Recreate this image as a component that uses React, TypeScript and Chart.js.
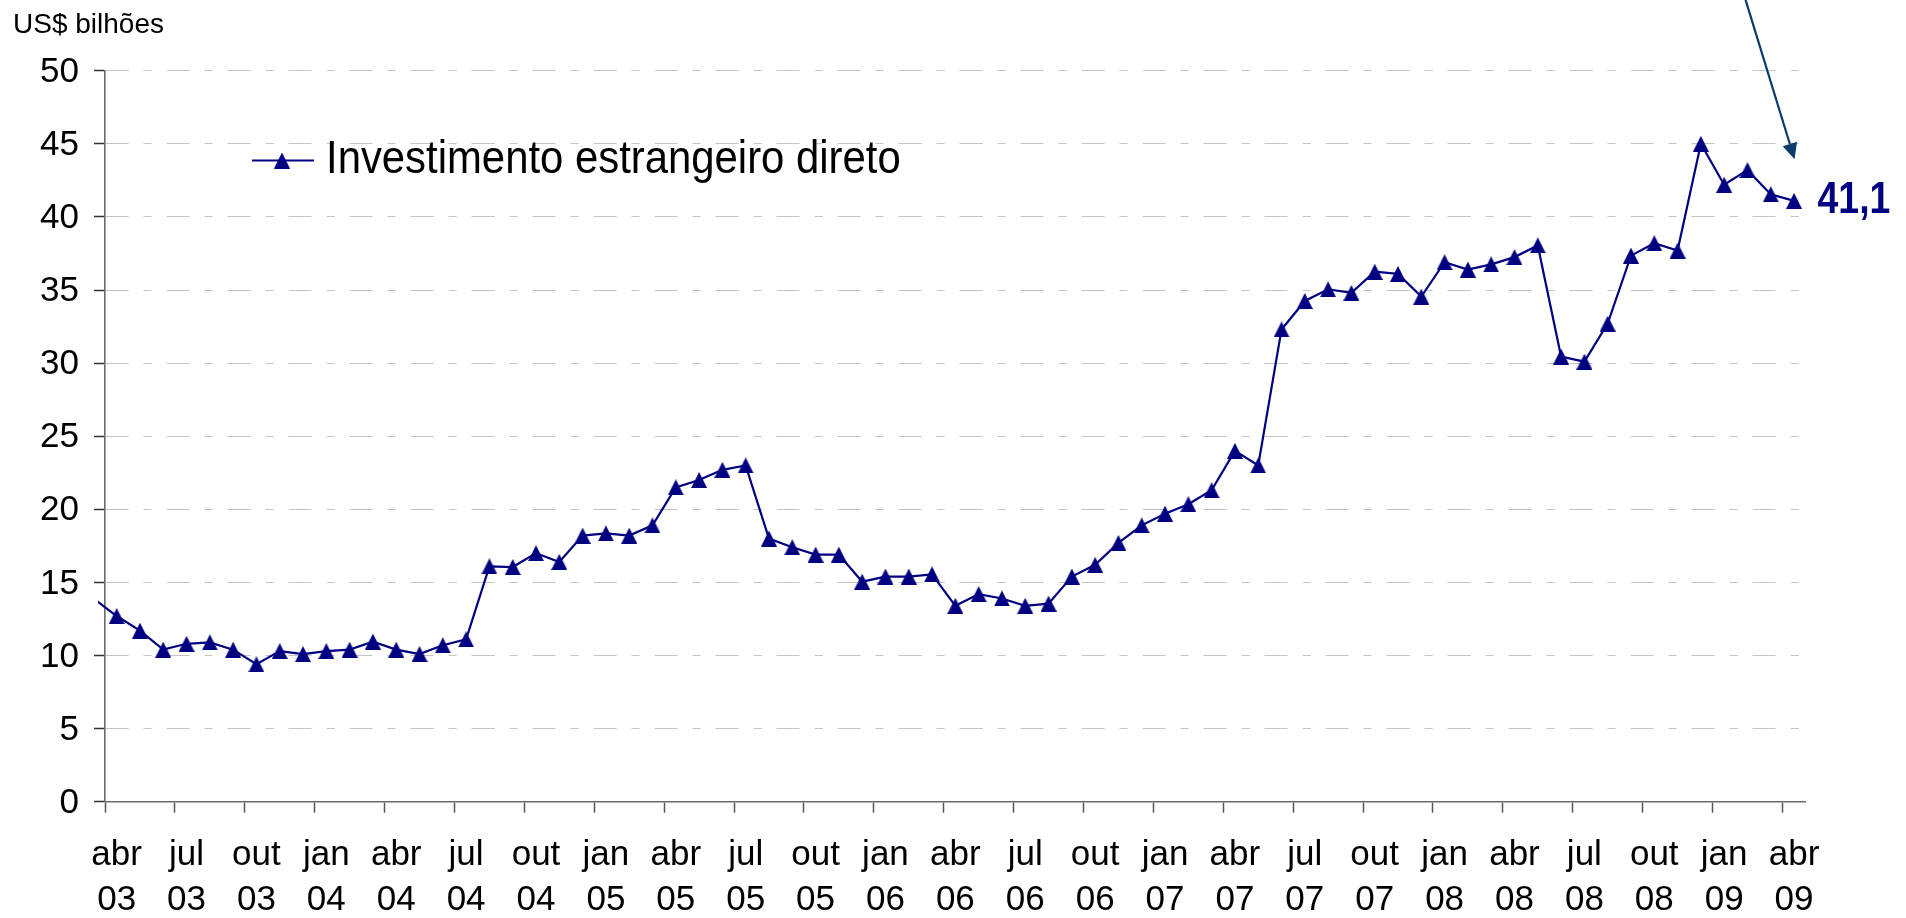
import React, { useEffect, useRef } from 'react';
import { Chart, registerables } from 'chart.js';

Chart.register(...registerables);

// Month categories (the first one lies just before the visible range; its segment is clipped)
const categories = [
  'mar 03', 'abr 03', 'mai 03', 'jun 03', 'jul 03', 'ago 03', 'set 03', 'out 03', 'nov 03', 'dez 03',
  'jan 04', 'fev 04', 'mar 04', 'abr 04', 'mai 04', 'jun 04', 'jul 04', 'ago 04', 'set 04', 'out 04', 'nov 04', 'dez 04',
  'jan 05', 'fev 05', 'mar 05', 'abr 05', 'mai 05', 'jun 05', 'jul 05', 'ago 05', 'set 05', 'out 05', 'nov 05', 'dez 05',
  'jan 06', 'fev 06', 'mar 06', 'abr 06', 'mai 06', 'jun 06', 'jul 06', 'ago 06', 'set 06', 'out 06', 'nov 06', 'dez 06',
  'jan 07', 'fev 07', 'mar 07', 'abr 07', 'mai 07', 'jun 07', 'jul 07', 'ago 07', 'set 07', 'out 07', 'nov 07', 'dez 07',
  'jan 08', 'fev 08', 'mar 08', 'abr 08', 'mai 08', 'jun 08', 'jul 08', 'ago 08', 'set 08', 'out 08', 'nov 08', 'dez 08',
  'jan 09', 'fev 09', 'mar 09', 'abr 09',
];

// Investimento estrangeiro direto, US$ bilhões
const fdiValues = [
  13.9, 12.7, 11.7, 10.4, 10.8, 10.9, 10.4, 9.4, 10.3, 10.1,
  10.3, 10.4, 10.95, 10.4, 10.1, 10.7, 11.1, 16.1, 16.05, 17.0, 16.4, 18.2,
  18.35, 18.2, 18.9, 21.5, 22.0, 22.7, 23.0, 18.0, 17.4, 16.9, 16.9, 15.05,
  15.4, 15.4, 15.55, 13.4, 14.2, 13.9, 13.4, 13.55, 15.4, 16.2, 17.7, 18.9,
  19.7, 20.35, 21.3, 24.0, 23.0, 32.3, 34.25, 35.05, 34.8, 36.25, 36.1, 34.55,
  36.9, 36.4, 36.75, 37.25, 38.05, 30.45, 30.1, 32.7, 37.35, 38.2, 37.7, 45.0,
  42.2, 43.2, 41.55, 41.1,
];

const quarterMonths = ['jan', 'abr', 'jul', 'out'];
const firstVisible = 'abr 03';
const seriesLabel = 'Investimento estrangeiro direto';
const unitLabel = 'US$ bilhões';
const yMin = 0;
const yMax = 50;
const yStep = 5;

const NAVY = '#000080';
const FONT = '"Liberation Sans", Arial, sans-serif';

function makeTriangle(w: number, h: number, color: string) {
  const c = document.createElement('canvas');
  c.width = w;
  c.height = h;
  const g = c.getContext('2d')!;
  g.fillStyle = color;
  g.beginPath();
  g.moveTo(w / 2, 0);
  g.lineTo(w, h);
  g.lineTo(0, h);
  g.closePath();
  g.fill();
  return c;
}

export default function App() {
  const ref = useRef<HTMLCanvasElement>(null);

  useEffect(() => {
    const canvas = ref.current!;
    const marker = makeTriangle(16, 16, NAVY);

    const overlay = {
      id: 'overlay',
      afterDraw(chart: any) {
        const ctx = chart.ctx;
        ctx.save();
        // unit label
        ctx.fillStyle = '#000';
        ctx.font = `28px ${FONT}`;
        ctx.textBaseline = 'alphabetic';
        ctx.textAlign = 'left';
        ctx.fillText(unitLabel, 13, 33);

        // legend
        ctx.strokeStyle = NAVY;
        ctx.lineWidth = 2.2;
        ctx.beginPath();
        ctx.moveTo(252, 160.5);
        ctx.lineTo(314, 160.5);
        ctx.stroke();
        ctx.drawImage(marker, 282 - 8, 160.5 - 8);
        ctx.save();
        ctx.translate(326, 173);
        ctx.scale(0.91, 1);
        ctx.fillStyle = '#000';
        ctx.font = `46px ${FONT}`;
        ctx.fillText(chart.data.datasets[0].label, 0, 0);
        ctx.restore();

        // last value label + arrow
        const meta = chart.getDatasetMeta(0);
        const lastIdx = fdiValues.length - 1;
        const pt = meta.data[lastIdx];
        const txt = fdiValues[lastIdx].toFixed(1).replace('.', ',');
        ctx.save();
        ctx.translate(pt.x + 23.5, pt.y);
        ctx.scale(0.85, 1);
        ctx.fillStyle = NAVY;
        ctx.font = `bold 44px ${FONT}`;
        ctx.textBaseline = 'middle';
        ctx.fillText(txt, 0, 0);
        ctx.restore();

        const tipX = pt.x + 0.5;
        const tipY = pt.y - 41.5;
        const startX = tipX - 49;
        const startY = tipY - 159.5;
        const dx = tipX - startX;
        const dy = tipY - startY;
        const len = Math.hypot(dx, dy);
        const ux = dx / len;
        const uy = dy / len;
        const headLen = 16;
        const headHalf = 7.5;
        const bx = tipX - ux * headLen;
        const by = tipY - uy * headLen;
        ctx.strokeStyle = '#0b3b6b';
        ctx.fillStyle = '#0b3b6b';
        ctx.lineWidth = 2.2;
        ctx.beginPath();
        ctx.moveTo(startX, startY);
        ctx.lineTo(bx, by);
        ctx.stroke();
        ctx.beginPath();
        ctx.moveTo(tipX, tipY);
        ctx.lineTo(bx + uy * headHalf, by - ux * headHalf);
        ctx.lineTo(bx - uy * headHalf, by + ux * headHalf);
        ctx.closePath();
        ctx.fill();
        ctx.restore();
      },
    };

    const chart = new Chart(canvas, {
      type: 'line',
      data: {
        labels: categories,
        datasets: [
          {
            label: seriesLabel,
            data: fdiValues,
            borderColor: NAVY,
            backgroundColor: NAVY,
            borderWidth: 2.2,
            tension: 0,
            fill: false,
            pointStyle: marker as any,
            pointRadius: (c: any) => (c.dataIndex === 0 ? 0 : 7),
            pointHoverRadius: 7,
            clip: { left: 7, top: 40, right: 40, bottom: 40 } as any,
          },
        ],
      },
      options: {
        responsive: false,
        maintainAspectRatio: false,
        animation: false,
        devicePixelRatio: 1,
        events: [],
        layout: { padding: { left: 0, top: 70.7, right: 100.3, bottom: 0 } },
        plugins: {
          legend: { display: false },
          tooltip: { enabled: false },
        },
        scales: {
          x: {
            type: 'category',
            min: firstVisible,
            offset: true,
            grid: {
              display: true,
              drawOnChartArea: false,
              drawTicks: true,
              tickLength: 11,
              tickWidth: 1.5,
              offset: true,
              tickColor: (c: any) =>
                c.tick && Array.isArray(c.tick.label) ? '#555555' : 'rgba(0,0,0,0)',
            },
            border: { display: true, color: '#6a6a6a', width: 1.6 },
            ticks: {
              autoSkip: false,
              maxRotation: 0,
              minRotation: 0,
              padding: 20.5,
              color: '#000',
              font: { family: FONT, size: 35, lineHeight: 45 / 35 },
              callback: (value: any) => {
                const lab = categories[value as number];
                const parts = lab.split(' ');
                return quarterMonths.includes(parts[0]) ? parts : '';
              },
            },
            afterFit: (s: any) => {
              s.height = 116.3;
            },
          },
          y: {
            min: yMin,
            max: yMax,
            ticks: {
              stepSize: yStep,
              padding: 15,
              labelOffset: 1.5,
              color: '#000',
              font: { family: FONT, size: 35 },
            },
            grid: {
              color: '#c4c4c4',
              lineWidth: 1,
              drawTicks: true,
              tickLength: 11,
              tickColor: '#333333',
              tickWidth: 1.5,
            },
            border: { display: true, color: '#6a6a6a', width: 1.6, dash: [23, 15, 8, 15] },
            afterFit: (s: any) => {
              s.width = 105;
            },
          },
        },
      },
      plugins: [overlay],
    } as any);

    return () => chart.destroy();
  }, []);

  return (
    <div style={{ position: 'fixed', left: 0, top: 0, width: 1906, height: 918, background: '#fff' }}>
      <canvas ref={ref} width={1906} height={918} style={{ display: 'block' }} />
    </div>
  );
}
